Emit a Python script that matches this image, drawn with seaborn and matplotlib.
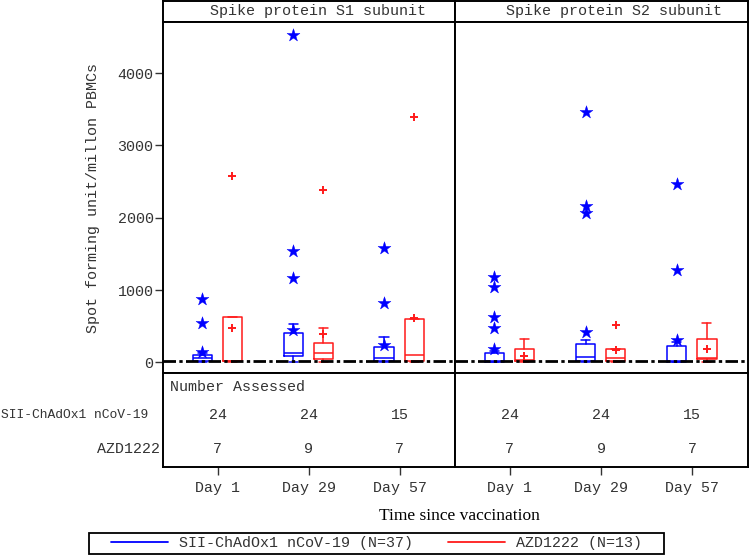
import matplotlib
matplotlib.use("Agg")
import numpy as np
import pandas as pd
import matplotlib.pyplot as plt
import seaborn as sns
from matplotlib.lines import Line2D
from matplotlib.patches import Rectangle

# ---- data ----
days = ["Day 1", "Day 29", "Day 57"]
panels = ["Spike protein S1 subunit", "Spike protein S2 subunit"]
groups = ["SII-ChAdOx1 nCoV-19", "AZD1222"]
group_n = [37, 13]
n_sii = [24, 24, 15]
n_azd = [7, 9, 7]
ref_level = 25

# box summaries per panel / group (one value per day)
s1_sii = dict(low=[0, 0, 0], q1=[18, 87, 18], med=[55, 133, 64], q3=[101, 401, 207],
              high=[130, 525, 354], mean=[147, 447, 239],
              out=[[539, 871], [1162, 1544, 4523], [825, 1581]])
s1_azd = dict(low=[0, 0, 0], q1=[25, 46, 18], med=[25, 129, 101], q3=[631, 271, 594],
              high=[631, 479, 600], mean=[479, 391, 617],
              out=[[2581], [2379], [3397]])
s2_sii = dict(low=[0, 0, 0], q1=[10, 18, 5], med=[20, 69, 20], q3=[124, 253, 230],
              high=[150, 308, 280], mean=[180, 415, 308],
              out=[[470, 631, 1037, 1176], [2069, 2162, 3466], [1277, 2470]])
s2_azd = dict(low=[0, 0, 0], q1=[22, 25, 46], med=[30, 60, 64], q3=[180, 180, 322],
              high=[322, 180, 539], mean=[87, 166, 180],
              out=[[], [516], []])

BLUE = "#0000ff"
RED = "#ff1a1a"
TXT = "#333333"
MONO = "Liberation Mono"

sns.set_theme(style="white")
plt.rcParams["font.family"] = [MONO, "DejaVu Sans Mono"]

W, H = 750, 555
fig = plt.figure(figsize=(7.5, 5.55), dpi=100)


def box(x0, y0, x1, y1):
    # pixel box (top-left origin) -> figure rect
    return [x0 / W, 1 - y1 / H, (x1 - x0) / W, (y1 - y0) / H]


def draw_group(ax, st, color, off, marker, size, lw):
    pos = np.arange(len(days)) + off
    stats = [dict(whislo=st["low"][i], q1=st["q1"][i], med=st["med"][i],
                  q3=st["q3"][i], whishi=st["high"][i], fliers=[])
             for i in range(len(days))]
    props = dict(color=color, linewidth=1.1)
    ax.bxp(stats, positions=pos, widths=0.21, capwidths=0.1, showfliers=False,
           manage_ticks=False, boxprops=props, whiskerprops=props,
           capprops=props, medianprops=props)
    xs, ys = [], []
    for i in range(len(days)):
        for v in [st["mean"][i]] + st["out"][i]:
            xs.append(pos[i])
            ys.append(v)
    pts = pd.DataFrame({"pos": xs, "value": ys})
    sns.scatterplot(data=pts, x="pos", y="value", marker=marker, s=size,
                    color=color, edgecolor=color, linewidth=lw, ax=ax,
                    legend=False, zorder=4)


panel_x = [(163, 455), (455, 748)]
panel_data = [(s1_sii, s1_azd), (s2_sii, s2_azd)]
title_off = [0.531, 0.544]

for p, (x0, x1) in enumerate(panel_x):
    sii, azd = panel_data[p]

    # strip header
    hx = fig.add_axes(box(x0, 0.8, x1, 22))
    hx.set_xticks([])
    hx.set_yticks([])
    hx.text(title_off[p], 0.5, panels[p], transform=hx.transAxes, ha="center",
            va="center", fontsize=10.8, color=TXT)

    # main plot
    ax = fig.add_axes(box(x0, 22, x1, 373.3))
    draw_group(ax, sii, BLUE, -0.17, "*", 95, 0.3)
    draw_group(ax, azd, RED, 0.16, "+", 26, 1.4)
    ax.axhline(ref_level, color="black", lw=2.0, ls=(0, (4.5, 1.2, 1.2, 1.2)),
               zorder=5)
    ax.set_xlim(-0.6, 2.61)
    ax.set_ylim(-152, 4707)
    ax.set_xticks([])
    ax.set_xlabel("")
    if p == 0:
        ax.set_yticks([0, 1000, 2000, 3000, 4000])
        ax.tick_params(axis="y", direction="out", length=5.8, width=1,
                       color=TXT, labelsize=10.8, labelcolor=TXT, pad=1, left=True)
        ax.set_ylabel("Spot forming unit/millon PBMCs", fontsize=10.8, color=TXT)
        ax.yaxis.set_label_coords(-0.215, 0.5)
    else:
        ax.set_yticks([])
        ax.set_ylabel("")

    # number-assessed table
    tx = fig.add_axes(box(x0, 373.3, x1, 467))
    tx.set_xlim(-0.6, 2.61)
    tx.set_ylim(0, 1)
    tx.set_yticks([])
    tx.set_xticks(range(len(days)))
    tx.set_xticklabels(days)
    tx.tick_params(axis="x", direction="out", length=5.8, width=1, color=TXT,
                   labelsize=10.8, labelcolor=TXT, pad=4, bottom=True)
    trans = tx.get_xaxis_transform()
    if p == 0:
        tx.text(-0.6 + 3.21 * 0.024, 0.85, "Number Assessed", transform=trans,
                ha="left", va="center", fontsize=10.8, color=TXT)
    for i in range(len(days)):
        tx.text(i, 0.555, str(n_sii[i]), transform=trans, ha="center",
                va="center", fontsize=10.8, color=TXT)
        tx.text(i, 0.192, str(n_azd[i]), transform=trans, ha="center",
                va="center", fontsize=10.8, color=TXT)

    for a in (hx, ax, tx):
        for s in a.spines.values():
            s.set_color("black")
            s.set_linewidth(1.4)
            s.set_visible(True)

# row labels of the table
fig.text(148 / W, 1 - 415 / H, groups[0], ha="right", va="center",
         fontsize=9.4, color=TXT)
fig.text(160 / W, 1 - 449 / H, groups[1], ha="right", va="center",
         fontsize=10.8, color=TXT)

fig.text(459 / W, 1 - 516 / H, "Time since vaccination", ha="center",
         va="center", fontsize=12.5, color="black", family="Liberation Serif")

# legend with its own frame
fig.patches.append(Rectangle((89 / W, 1 - 554 / H), 575 / W, 21 / H,
                             transform=fig.transFigure, fill=False,
                             edgecolor="black", lw=1.3))
handles = [Line2D([], [], color=BLUE, lw=1.3), Line2D([], [], color=RED, lw=1.3)]
labels = [f"{g} (N={n})" for g, n in zip(groups, group_n)]
leg = fig.legend(handles, labels, ncol=2, loc="center",
                 bbox_to_anchor=(376.5 / W, 1 - 543.5 / H), frameon=False,
                 handlelength=3.8, handletextpad=0.75, columnspacing=2.3,
                 fontsize=10.8, borderpad=0.1)
for t in leg.get_texts():
    t.set_color(TXT)

fig.savefig("out.png", dpi=100)
